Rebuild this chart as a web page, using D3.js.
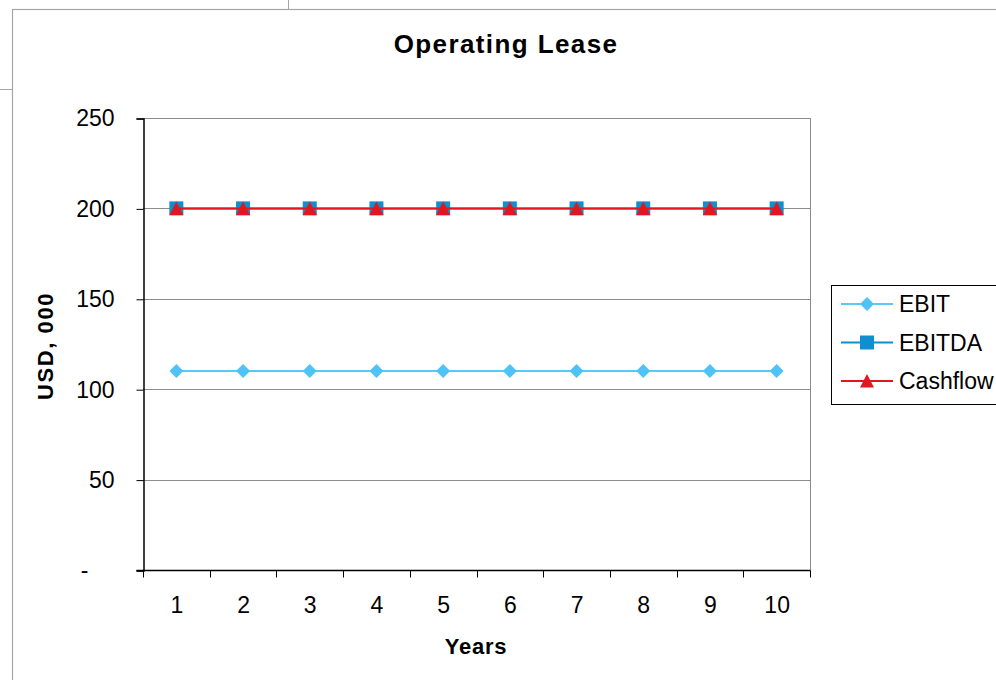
<!DOCTYPE html>
<html>
<head>
<meta charset="utf-8">
<script src="https://cdn.jsdelivr.net/npm/d3@7"></script>
<style>
  html, body { margin: 0; padding: 0; background: #fff; }
  svg { display: block; font-family: "Liberation Sans", Arial, sans-serif; }
</style>
</head>
<body>
<svg id="chart" width="996" height="680"></svg>
<script>
// Chart data
const years = [1, 2, 3, 4, 5, 6, 7, 8, 9, 10];
const ebit = [110, 110, 110, 110, 110, 110, 110, 110, 110, 110];
const ebitda = [200, 200, 200, 200, 200, 200, 200, 200, 200, 200];
const cashflow = [200, 200, 200, 200, 200, 200, 200, 200, 200, 200];
const yTicks = [0, 50, 100, 150, 200, 250];
const seriesNames = ["EBIT", "EBITDA", "Cashflow"];

const series = [
  { name: seriesNames[0], values: ebit, line: "#5cc8f7", fill: "#4fc3f7", shape: "diamond" },
  { name: seriesNames[1], values: ebitda, line: "#0d8fd0", fill: "#0d8fd0", shape: "square" },
  { name: seriesNames[2], values: cashflow, line: "#e3161f", fill: "#e3161f", shape: "triangle" }
];

const svg = d3.select("#chart");
const labelSize = 23;

// Sheet cell borders and chart frame
const frame = "#a6a6a6";
svg.append("line").attr("x1", 288.5).attr("x2", 288.5).attr("y1", 0).attr("y2", 10).attr("stroke", frame);
svg.append("line").attr("x1", 0).attr("x2", 12).attr("y1", 89.5).attr("y2", 89.5).attr("stroke", frame);
svg.append("rect").attr("x", 12.5).attr("y", 9.5).attr("width", 1100).attr("height", 800)
  .attr("fill", "#fff").attr("stroke", frame).attr("stroke-width", 1.2);

const plot = { left: 143, top: 118, right: 810, bottom: 570 };

const x = d3.scaleBand().domain(years).range([plot.left, plot.right]);
const y = d3.scaleLinear().domain([0, 250]).range([plot.bottom, plot.top]);

// Gridlines
svg.append("g").selectAll("line").data(yTicks.filter(d => d > 0)).join("line")
  .attr("x1", plot.left).attr("x2", plot.right)
  .attr("y1", d => Math.round(y(d)) + 0.5).attr("y2", d => Math.round(y(d)) + 0.5)
  .attr("stroke", "#8c8c8c").attr("stroke-width", 1);

// Right border of plot area
svg.append("line").attr("x1", plot.right + 0.5).attr("x2", plot.right + 0.5)
  .attr("y1", plot.top).attr("y2", plot.bottom).attr("stroke", "#8c8c8c");

// Y axis (accounting-style: zero shown as a padded dash)
const yAxis = d3.axisLeft(y).tickValues(yTicks).tickSize(7).tickPadding(22)
  .tickFormat(d => d === 0 ? "-" : d3.format("d")(d));
const gy = svg.append("g").attr("transform", `translate(${plot.left + 0.5},0.5)`).call(yAxis);
gy.select(".domain").attr("stroke", "#000").attr("stroke-width", 1.5);
gy.selectAll(".tick line").attr("stroke", "#000");
gy.selectAll(".tick text").attr("font-size", labelSize).attr("fill", "#000")
  .attr("font-family", "Liberation Sans, Arial, sans-serif")
  .attr("dx", d => d === 0 ? -26 : 0);

// X axis with ticks on category boundaries
const gx = svg.append("g").attr("transform", `translate(0.5,${plot.bottom + 0.5})`);
gx.append("line").attr("x1", plot.left - 7).attr("x2", plot.right).attr("y1", 0).attr("y2", 0)
  .attr("stroke", "#000").attr("stroke-width", 1.5);
const bounds = years.map(d => x(d)).concat([plot.right]);
gx.selectAll("line.tk").data(bounds).join("line").attr("class", "tk")
  .attr("x1", d => Math.round(d)).attr("x2", d => Math.round(d)).attr("y1", 0).attr("y2", 7)
  .attr("stroke", "#000");
gx.selectAll("text").data(years).join("text")
  .attr("x", d => x(d) + x.bandwidth() / 2).attr("y", 42)
  .attr("text-anchor", "middle").attr("font-size", labelSize).attr("fill", "#000")
  .text(d => d);

// Markers
function marker(sel, shape, fill) {
  if (shape === "diamond") {
    sel.append("path").attr("d", "M0,-7L7,0L0,7L-7,0Z").attr("fill", fill);
  } else if (shape === "square") {
    sel.append("rect").attr("x", -7).attr("y", -7).attr("width", 14).attr("height", 14).attr("fill", fill);
  } else {
    sel.append("path").attr("d", "M0,-7L7,6.5L-7,6.5Z").attr("fill", fill);
  }
}

const cx = d => x(d) + x.bandwidth() / 2;
const line = d3.line().x((v, i) => cx(years[i])).y(v => y(v));

series.forEach(s => {
  svg.append("path").datum(s.values).attr("d", line)
    .attr("fill", "none").attr("stroke", s.line).attr("stroke-width", 2);
  svg.append("g").selectAll("g").data(s.values).join("g")
    .attr("transform", (v, i) => `translate(${cx(years[i])},${y(v)})`)
    .each(function () { marker(d3.select(this), s.shape, s.fill); });
});

// Title and axis titles
svg.append("text").attr("x", 506).attr("y", 53).attr("text-anchor", "middle")
  .attr("font-size", 26).attr("font-weight", "bold").attr("letter-spacing", 1.4).text("Operating Lease");
svg.append("text").attr("x", 476).attr("y", 654).attr("text-anchor", "middle")
  .attr("font-size", 22).attr("font-weight", "bold").attr("letter-spacing", 0.8).text("Years");
svg.append("text").attr("transform", "translate(53,346) rotate(-90)").attr("text-anchor", "middle")
  .attr("font-size", 22).attr("font-weight", "bold").attr("letter-spacing", 1.6).text("USD, 000");

// Legend
const lg = svg.append("g");
lg.append("rect").attr("x", 831.5).attr("y", 285.5).attr("width", 200).attr("height", 119)
  .attr("fill", "#fff").attr("stroke", "#000");
series.forEach((s, i) => {
  const ly = 304 + i * 38.5;
  const row = lg.append("g");
  row.append("line").attr("x1", 841).attr("x2", 893).attr("y1", ly).attr("y2", ly)
    .attr("stroke", s.line).attr("stroke-width", 2);
  const m = row.append("g").attr("transform", `translate(867,${ly})`);
  marker(m, s.shape, s.fill);
  row.append("text").attr("x", 899).attr("y", ly + 8).attr("font-size", labelSize).attr("fill", "#000").text(s.name);
});
</script>
</body>
</html>
